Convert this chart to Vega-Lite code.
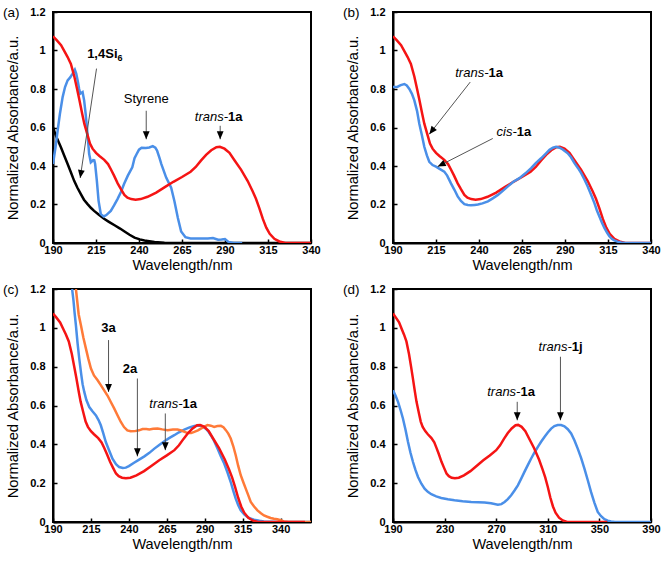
{
  "$schema": "https://vega.github.io/schema/vega-lite/v6.json",
  "padding": {"left": 2, "top": 4, "right": 0, "bottom": 3},
  "background": "white",
  "config": {
    "font": "Liberation Sans",
    "view": {"stroke": "black", "strokeWidth": 2},
    "axis": {"grid": false, "domainColor": "black", "domainWidth": 2, "tickColor": "black", "tickWidth": 1.5, "tickSize": -4, "labelFont": "Liberation Sans", "labelFontWeight": "bold", "labelFontSize": 11, "labelColor": "black", "labelFlush": false, "labelOverlap": false, "titleFont": "Liberation Sans", "titleFontWeight": "normal", "titleColor": "black"},
    "axisX": {"labelPadding": 5, "titleFontSize": 14.5, "titlePadding": 3},
    "axisY": {"labelPadding": 12, "titleFontSize": 14.7, "titlePadding": 9.5},
    "title": {"font": "Liberation Sans", "fontSize": 13.5, "fontWeight": "normal", "color": "black", "anchor": "start", "frame": "group", "baseline": "middle", "offset": 0, "dx": -50, "dy": 17},
    "text": {"font": "Liberation Sans", "fontSize": 13, "color": "black", "baseline": "middle"}
  },
  "datasets": {
    "spec": [
      {"panel":"all","series":"trans-1a","wl":190,"a":1.074},{"panel":"all","series":"trans-1a","wl":192,"a":1.055},{"panel":"all","series":"trans-1a","wl":194.7,"a":1.028},{"panel":"all","series":"trans-1a","wl":197,"a":0.99},{"panel":"all","series":"trans-1a","wl":198.5,"a":0.966},{"panel":"all","series":"trans-1a","wl":200.4,"a":0.93},{"panel":"all","series":"trans-1a","wl":202.4,"a":0.865},{"panel":"all","series":"trans-1a","wl":204,"a":0.8},{"panel":"all","series":"trans-1a","wl":205.3,"a":0.745},{"panel":"all","series":"trans-1a","wl":207,"a":0.67},{"panel":"all","series":"trans-1a","wl":208.2,"a":0.62},{"panel":"all","series":"trans-1a","wl":210.1,"a":0.56},{"panel":"all","series":"trans-1a","wl":211.5,"a":0.517},{"panel":"all","series":"trans-1a","wl":213,"a":0.49},{"panel":"all","series":"trans-1a","wl":215,"a":0.468},{"panel":"all","series":"trans-1a","wl":217,"a":0.452},{"panel":"all","series":"trans-1a","wl":219.8,"a":0.432},{"panel":"all","series":"trans-1a","wl":222,"a":0.41},{"panel":"all","series":"trans-1a","wl":223.7,"a":0.382},{"panel":"all","series":"trans-1a","wl":225.5,"a":0.35},{"panel":"all","series":"trans-1a","wl":227.6,"a":0.31},{"panel":"all","series":"trans-1a","wl":229.5,"a":0.28},{"panel":"all","series":"trans-1a","wl":231.5,"a":0.25},{"panel":"all","series":"trans-1a","wl":233.3,"a":0.236},{"panel":"all","series":"trans-1a","wl":235.5,"a":0.228},{"panel":"all","series":"trans-1a","wl":238,"a":0.225},{"panel":"all","series":"trans-1a","wl":241,"a":0.228},{"panel":"all","series":"trans-1a","wl":245,"a":0.24},{"panel":"all","series":"trans-1a","wl":250,"a":0.262},{"panel":"all","series":"trans-1a","wl":255,"a":0.29},{"panel":"all","series":"trans-1a","wl":260,"a":0.318},{"panel":"all","series":"trans-1a","wl":265,"a":0.343},{"panel":"all","series":"trans-1a","wl":270,"a":0.37},{"panel":"all","series":"trans-1a","wl":273,"a":0.395},{"panel":"all","series":"trans-1a","wl":276,"a":0.428},{"panel":"all","series":"trans-1a","wl":279,"a":0.458},{"panel":"all","series":"trans-1a","wl":282,"a":0.482},{"panel":"all","series":"trans-1a","wl":285,"a":0.498},{"panel":"all","series":"trans-1a","wl":287,"a":0.5},{"panel":"all","series":"trans-1a","wl":289.7,"a":0.49},{"panel":"all","series":"trans-1a","wl":292.6,"a":0.468},{"panel":"all","series":"trans-1a","wl":295.5,"a":0.43},{"panel":"all","series":"trans-1a","wl":299.4,"a":0.38},{"panel":"all","series":"trans-1a","wl":303.2,"a":0.322},{"panel":"all","series":"trans-1a","wl":306,"a":0.27},{"panel":"all","series":"trans-1a","wl":308,"a":0.23},{"panel":"all","series":"trans-1a","wl":310,"a":0.18},{"panel":"all","series":"trans-1a","wl":312,"a":0.125},{"panel":"all","series":"trans-1a","wl":314,"a":0.08},{"panel":"all","series":"trans-1a","wl":316,"a":0.048},{"panel":"all","series":"trans-1a","wl":318.7,"a":0.022},{"panel":"all","series":"trans-1a","wl":321.6,"a":0.008},{"panel":"all","series":"trans-1a","wl":325,"a":0},{"panel":"all","series":"trans-1a","wl":356,"a":0},

      {"panel":"a","series":"1,4Si6","wl":190,"a":0.6},{"panel":"a","series":"1,4Si6","wl":192,"a":0.55},{"panel":"a","series":"1,4Si6","wl":194.6,"a":0.497},{"panel":"a","series":"1,4Si6","wl":196.5,"a":0.455},{"panel":"a","series":"1,4Si6","wl":198.5,"a":0.41},{"panel":"a","series":"1,4Si6","wl":200.5,"a":0.365},{"panel":"a","series":"1,4Si6","wl":202.3,"a":0.323},{"panel":"a","series":"1,4Si6","wl":204.2,"a":0.287},{"panel":"a","series":"1,4Si6","wl":206.2,"a":0.254},{"panel":"a","series":"1,4Si6","wl":208,"a":0.225},{"panel":"a","series":"1,4Si6","wl":210.1,"a":0.202},{"panel":"a","series":"1,4Si6","wl":212,"a":0.183},{"panel":"a","series":"1,4Si6","wl":213.9,"a":0.167},{"panel":"a","series":"1,4Si6","wl":216.5,"a":0.148},{"panel":"a","series":"1,4Si6","wl":219.7,"a":0.126},{"panel":"a","series":"1,4Si6","wl":222.5,"a":0.11},{"panel":"a","series":"1,4Si6","wl":225.8,"a":0.092},{"panel":"a","series":"1,4Si6","wl":229,"a":0.075},{"panel":"a","series":"1,4Si6","wl":231.6,"a":0.06},{"panel":"a","series":"1,4Si6","wl":234.5,"a":0.043},{"panel":"a","series":"1,4Si6","wl":237.4,"a":0.028},{"panel":"a","series":"1,4Si6","wl":240.5,"a":0.019},{"panel":"a","series":"1,4Si6","wl":243.2,"a":0.013},{"panel":"a","series":"1,4Si6","wl":246,"a":0.009},{"panel":"a","series":"1,4Si6","wl":249,"a":0.005},{"panel":"a","series":"1,4Si6","wl":254.8,"a":0.001},{"panel":"a","series":"1,4Si6","wl":260,"a":0},{"panel":"a","series":"1,4Si6","wl":340,"a":0},

      {"panel":"a","series":"Styrene","wl":190,"a":0.41},{"panel":"a","series":"Styrene","wl":191.5,"a":0.5},{"panel":"a","series":"Styrene","wl":192.7,"a":0.584},{"panel":"a","series":"Styrene","wl":194,"a":0.67},{"panel":"a","series":"Styrene","wl":195.6,"a":0.758},{"panel":"a","series":"Styrene","wl":197,"a":0.81},{"panel":"a","series":"Styrene","wl":198.5,"a":0.845},{"panel":"a","series":"Styrene","wl":200,"a":0.86},{"panel":"a","series":"Styrene","wl":201.4,"a":0.88},{"panel":"a","series":"Styrene","wl":202.7,"a":0.9},{"panel":"a","series":"Styrene","wl":203.5,"a":0.88},{"panel":"a","series":"Styrene","wl":204.3,"a":0.845},{"panel":"a","series":"Styrene","wl":205.2,"a":0.8},{"panel":"a","series":"Styrene","wl":205.8,"a":0.776},{"panel":"a","series":"Styrene","wl":206.5,"a":0.78},{"panel":"a","series":"Styrene","wl":207.2,"a":0.784},{"panel":"a","series":"Styrene","wl":208.1,"a":0.741},{"panel":"a","series":"Styrene","wl":209,"a":0.67},{"panel":"a","series":"Styrene","wl":209.7,"a":0.602},{"panel":"a","series":"Styrene","wl":210.4,"a":0.53},{"panel":"a","series":"Styrene","wl":211,"a":0.463},{"panel":"a","series":"Styrene","wl":212,"a":0.419},{"panel":"a","series":"Styrene","wl":212.8,"a":0.425},{"panel":"a","series":"Styrene","wl":213.4,"a":0.431},{"panel":"a","series":"Styrene","wl":214,"a":0.43},{"panel":"a","series":"Styrene","wl":214.5,"a":0.41},{"panel":"a","series":"Styrene","wl":215.5,"a":0.323},{"panel":"a","series":"Styrene","wl":216.5,"a":0.219},{"panel":"a","series":"Styrene","wl":217.8,"a":0.15},{"panel":"a","series":"Styrene","wl":219.5,"a":0.138},{"panel":"a","series":"Styrene","wl":221,"a":0.145},{"panel":"a","series":"Styrene","wl":223.6,"a":0.167},{"panel":"a","series":"Styrene","wl":225.5,"a":0.195},{"panel":"a","series":"Styrene","wl":227.5,"a":0.228},{"panel":"a","series":"Styrene","wl":229.5,"a":0.265},{"panel":"a","series":"Styrene","wl":231.3,"a":0.306},{"panel":"a","series":"Styrene","wl":233.5,"a":0.35},{"panel":"a","series":"Styrene","wl":236.1,"a":0.393},{"panel":"a","series":"Styrene","wl":237.4,"a":0.44},{"panel":"a","series":"Styrene","wl":238.5,"a":0.46},{"panel":"a","series":"Styrene","wl":240,"a":0.485},{"panel":"a","series":"Styrene","wl":241.5,"a":0.495},{"panel":"a","series":"Styrene","wl":244,"a":0.494},{"panel":"a","series":"Styrene","wl":246,"a":0.496},{"panel":"a","series":"Styrene","wl":248,"a":0.503},{"panel":"a","series":"Styrene","wl":249.5,"a":0.495},{"panel":"a","series":"Styrene","wl":250.5,"a":0.48},{"panel":"a","series":"Styrene","wl":252,"a":0.44},{"panel":"a","series":"Styrene","wl":253,"a":0.41},{"panel":"a","series":"Styrene","wl":255.8,"a":0.34},{"panel":"a","series":"Styrene","wl":258.7,"a":0.287},{"panel":"a","series":"Styrene","wl":260.6,"a":0.217},{"panel":"a","series":"Styrene","wl":262.6,"a":0.13},{"panel":"a","series":"Styrene","wl":264.5,"a":0.06},{"panel":"a","series":"Styrene","wl":267,"a":0.03},{"panel":"a","series":"Styrene","wl":270,"a":0.024},{"panel":"a","series":"Styrene","wl":275,"a":0.023},{"panel":"a","series":"Styrene","wl":280,"a":0.024},{"panel":"a","series":"Styrene","wl":283,"a":0.026},{"panel":"a","series":"Styrene","wl":286,"a":0.017},{"panel":"a","series":"Styrene","wl":288,"a":0.018},{"panel":"a","series":"Styrene","wl":290,"a":0.021},{"panel":"a","series":"Styrene","wl":292,"a":0.006},{"panel":"a","series":"Styrene","wl":295,"a":0},{"panel":"a","series":"Styrene","wl":300,"a":0},

      {"panel":"b","series":"cis-1a","wl":190,"a":0.81},{"panel":"b","series":"cis-1a","wl":192.7,"a":0.812},{"panel":"b","series":"cis-1a","wl":194.5,"a":0.82},{"panel":"b","series":"cis-1a","wl":196.6,"a":0.826},{"panel":"b","series":"cis-1a","wl":198,"a":0.818},{"panel":"b","series":"cis-1a","wl":199.5,"a":0.8},{"panel":"b","series":"cis-1a","wl":201,"a":0.775},{"panel":"b","series":"cis-1a","wl":202.4,"a":0.741},{"panel":"b","series":"cis-1a","wl":204,"a":0.685},{"panel":"b","series":"cis-1a","wl":205.3,"a":0.62},{"panel":"b","series":"cis-1a","wl":206.8,"a":0.56},{"panel":"b","series":"cis-1a","wl":208.2,"a":0.5},{"panel":"b","series":"cis-1a","wl":209.7,"a":0.455},{"panel":"b","series":"cis-1a","wl":211.1,"a":0.422},{"panel":"b","series":"cis-1a","wl":213,"a":0.405},{"panel":"b","series":"cis-1a","wl":215,"a":0.397},{"panel":"b","series":"cis-1a","wl":217.1,"a":0.385},{"panel":"b","series":"cis-1a","wl":219.8,"a":0.371},{"panel":"b","series":"cis-1a","wl":221.5,"a":0.35},{"panel":"b","series":"cis-1a","wl":223.7,"a":0.31},{"panel":"b","series":"cis-1a","wl":225.8,"a":0.275},{"panel":"b","series":"cis-1a","wl":227.6,"a":0.242},{"panel":"b","series":"cis-1a","wl":229.5,"a":0.218},{"panel":"b","series":"cis-1a","wl":231.5,"a":0.202},{"panel":"b","series":"cis-1a","wl":233.5,"a":0.197},{"panel":"b","series":"cis-1a","wl":235.3,"a":0.196},{"panel":"b","series":"cis-1a","wl":237.5,"a":0.198},{"panel":"b","series":"cis-1a","wl":239.4,"a":0.2},{"panel":"b","series":"cis-1a","wl":242,"a":0.206},{"panel":"b","series":"cis-1a","wl":245.2,"a":0.216},{"panel":"b","series":"cis-1a","wl":248,"a":0.232},{"panel":"b","series":"cis-1a","wl":251,"a":0.25},{"panel":"b","series":"cis-1a","wl":254,"a":0.272},{"panel":"b","series":"cis-1a","wl":256.8,"a":0.294},{"panel":"b","series":"cis-1a","wl":260,"a":0.318},{"panel":"b","series":"cis-1a","wl":263.5,"a":0.337},{"panel":"b","series":"cis-1a","wl":267,"a":0.362},{"panel":"b","series":"cis-1a","wl":270.3,"a":0.389},{"panel":"b","series":"cis-1a","wl":273,"a":0.415},{"panel":"b","series":"cis-1a","wl":276.1,"a":0.44},{"panel":"b","series":"cis-1a","wl":279,"a":0.466},{"panel":"b","series":"cis-1a","wl":281,"a":0.484},{"panel":"b","series":"cis-1a","wl":283,"a":0.495},{"panel":"b","series":"cis-1a","wl":284.8,"a":0.5},{"panel":"b","series":"cis-1a","wl":286.8,"a":0.495},{"panel":"b","series":"cis-1a","wl":288.7,"a":0.486},{"panel":"b","series":"cis-1a","wl":291.6,"a":0.466},{"panel":"b","series":"cis-1a","wl":293.5,"a":0.445},{"panel":"b","series":"cis-1a","wl":295.5,"a":0.415},{"panel":"b","series":"cis-1a","wl":297.5,"a":0.39},{"panel":"b","series":"cis-1a","wl":299.4,"a":0.363},{"panel":"b","series":"cis-1a","wl":301.3,"a":0.33},{"panel":"b","series":"cis-1a","wl":303.2,"a":0.294},{"panel":"b","series":"cis-1a","wl":305,"a":0.255},{"panel":"b","series":"cis-1a","wl":307.1,"a":0.207},{"panel":"b","series":"cis-1a","wl":308.5,"a":0.17},{"panel":"b","series":"cis-1a","wl":310,"a":0.138},{"panel":"b","series":"cis-1a","wl":311.5,"a":0.105},{"panel":"b","series":"cis-1a","wl":312.9,"a":0.078},{"panel":"b","series":"cis-1a","wl":314.5,"a":0.053},{"panel":"b","series":"cis-1a","wl":315.8,"a":0.035},{"panel":"b","series":"cis-1a","wl":317.2,"a":0.022},{"panel":"b","series":"cis-1a","wl":318.7,"a":0.014},{"panel":"b","series":"cis-1a","wl":320.5,"a":0.007},{"panel":"b","series":"cis-1a","wl":322.6,"a":0.003},{"panel":"b","series":"cis-1a","wl":325,"a":0},{"panel":"b","series":"cis-1a","wl":340,"a":0},

      {"panel":"c","series":"2a","wl":202.6,"a":1.2},{"panel":"c","series":"2a","wl":203.5,"a":1.14},{"panel":"c","series":"2a","wl":204.2,"a":1.08},{"panel":"c","series":"2a","wl":205.1,"a":1.013},{"panel":"c","series":"2a","wl":206.2,"a":0.92},{"panel":"c","series":"2a","wl":207.3,"a":0.841},{"panel":"c","series":"2a","wl":208.6,"a":0.76},{"panel":"c","series":"2a","wl":209.5,"a":0.71},{"panel":"c","series":"2a","wl":210.6,"a":0.67},{"panel":"c","series":"2a","wl":212,"a":0.628},{"panel":"c","series":"2a","wl":213.9,"a":0.592},{"panel":"c","series":"2a","wl":216,"a":0.57},{"panel":"c","series":"2a","wl":218.3,"a":0.549},{"panel":"c","series":"2a","wl":220,"a":0.525},{"panel":"c","series":"2a","wl":221.5,"a":0.498},{"panel":"c","series":"2a","wl":223,"a":0.46},{"panel":"c","series":"2a","wl":224.8,"a":0.412},{"panel":"c","series":"2a","wl":227,"a":0.368},{"panel":"c","series":"2a","wl":229.2,"a":0.326},{"panel":"c","series":"2a","wl":231.5,"a":0.298},{"panel":"c","series":"2a","wl":233.6,"a":0.283},{"panel":"c","series":"2a","wl":236,"a":0.278},{"panel":"c","series":"2a","wl":238,"a":0.28},{"panel":"c","series":"2a","wl":240,"a":0.288},{"panel":"c","series":"2a","wl":243.4,"a":0.305},{"panel":"c","series":"2a","wl":246.5,"a":0.32},{"panel":"c","series":"2a","wl":250.2,"a":0.338},{"panel":"c","series":"2a","wl":253.5,"a":0.356},{"panel":"c","series":"2a","wl":256.8,"a":0.378},{"panel":"c","series":"2a","wl":260,"a":0.397},{"panel":"c","series":"2a","wl":263.4,"a":0.416},{"panel":"c","series":"2a","wl":266.5,"a":0.432},{"panel":"c","series":"2a","wl":269.9,"a":0.447},{"panel":"c","series":"2a","wl":273,"a":0.462},{"panel":"c","series":"2a","wl":276.5,"a":0.476},{"panel":"c","series":"2a","wl":280,"a":0.487},{"panel":"c","series":"2a","wl":283.1,"a":0.495},{"panel":"c","series":"2a","wl":285.5,"a":0.497},{"panel":"c","series":"2a","wl":287.4,"a":0.496},{"panel":"c","series":"2a","wl":289,"a":0.49},{"panel":"c","series":"2a","wl":290.7,"a":0.481},{"panel":"c","series":"2a","wl":292.5,"a":0.465},{"panel":"c","series":"2a","wl":294,"a":0.447},{"panel":"c","series":"2a","wl":296,"a":0.42},{"panel":"c","series":"2a","wl":298.4,"a":0.378},{"panel":"c","series":"2a","wl":300.5,"a":0.34},{"panel":"c","series":"2a","wl":302.8,"a":0.301},{"panel":"c","series":"2a","wl":305,"a":0.255},{"panel":"c","series":"2a","wl":307.1,"a":0.206},{"panel":"c","series":"2a","wl":308.8,"a":0.16},{"panel":"c","series":"2a","wl":310.4,"a":0.12},{"panel":"c","series":"2a","wl":312,"a":0.088},{"panel":"c","series":"2a","wl":313.7,"a":0.06},{"panel":"c","series":"2a","wl":316,"a":0.04},{"panel":"c","series":"2a","wl":318.1,"a":0.026},{"panel":"c","series":"2a","wl":320,"a":0.018},{"panel":"c","series":"2a","wl":322.5,"a":0.012},{"panel":"c","series":"2a","wl":326,"a":0.006},{"panel":"c","series":"2a","wl":329,"a":0.003},{"panel":"c","series":"2a","wl":334,"a":0.001},{"panel":"c","series":"2a","wl":338,"a":0},{"panel":"c","series":"2a","wl":360,"a":0},

      {"panel":"c","series":"3a","wl":205.1,"a":1.2},{"panel":"c","series":"3a","wl":206.9,"a":1.07},{"panel":"c","series":"3a","wl":208.4,"a":1.013},{"panel":"c","series":"3a","wl":210,"a":0.95},{"panel":"c","series":"3a","wl":211.7,"a":0.893},{"panel":"c","series":"3a","wl":213.3,"a":0.84},{"panel":"c","series":"3a","wl":215,"a":0.79},{"panel":"c","series":"3a","wl":217,"a":0.755},{"panel":"c","series":"3a","wl":219.4,"a":0.73},{"panel":"c","series":"3a","wl":221.5,"a":0.705},{"panel":"c","series":"3a","wl":223.7,"a":0.678},{"panel":"c","series":"3a","wl":226,"a":0.65},{"panel":"c","series":"3a","wl":228.1,"a":0.618},{"panel":"c","series":"3a","wl":230.3,"a":0.585},{"panel":"c","series":"3a","wl":232.5,"a":0.55},{"panel":"c","series":"3a","wl":234.7,"a":0.515},{"panel":"c","series":"3a","wl":236.8,"a":0.489},{"panel":"c","series":"3a","wl":239,"a":0.472},{"panel":"c","series":"3a","wl":241.2,"a":0.467},{"panel":"c","series":"3a","wl":244,"a":0.468},{"panel":"c","series":"3a","wl":246.7,"a":0.472},{"panel":"c","series":"3a","wl":249,"a":0.479},{"panel":"c","series":"3a","wl":251.5,"a":0.479},{"panel":"c","series":"3a","wl":253.5,"a":0.477},{"panel":"c","series":"3a","wl":256,"a":0.48},{"panel":"c","series":"3a","wl":259,"a":0.481},{"panel":"c","series":"3a","wl":262,"a":0.477},{"panel":"c","series":"3a","wl":265.5,"a":0.473},{"panel":"c","series":"3a","wl":269,"a":0.476},{"panel":"c","series":"3a","wl":272.1,"a":0.476},{"panel":"c","series":"3a","wl":275,"a":0.47},{"panel":"c","series":"3a","wl":278.7,"a":0.458},{"panel":"c","series":"3a","wl":281,"a":0.458},{"panel":"c","series":"3a","wl":283.1,"a":0.464},{"panel":"c","series":"3a","wl":285.5,"a":0.472},{"panel":"c","series":"3a","wl":287.4,"a":0.481},{"panel":"c","series":"3a","wl":289.5,"a":0.49},{"panel":"c","series":"3a","wl":291.8,"a":0.499},{"panel":"c","series":"3a","wl":294,"a":0.496},{"panel":"c","series":"3a","wl":296.2,"a":0.49},{"panel":"c","series":"3a","wl":298.4,"a":0.494},{"panel":"c","series":"3a","wl":300.6,"a":0.495},{"panel":"c","series":"3a","wl":302.3,"a":0.488},{"panel":"c","series":"3a","wl":303.9,"a":0.473},{"panel":"c","series":"3a","wl":305.5,"a":0.455},{"panel":"c","series":"3a","wl":307.1,"a":0.43},{"panel":"c","series":"3a","wl":308.8,"a":0.39},{"panel":"c","series":"3a","wl":310.4,"a":0.344},{"panel":"c","series":"3a","wl":312,"a":0.29},{"panel":"c","series":"3a","wl":313.7,"a":0.241},{"panel":"c","series":"3a","wl":315.4,"a":0.205},{"panel":"c","series":"3a","wl":317,"a":0.172},{"panel":"c","series":"3a","wl":318.7,"a":0.137},{"panel":"c","series":"3a","wl":320.3,"a":0.103},{"panel":"c","series":"3a","wl":322.5,"a":0.08},{"panel":"c","series":"3a","wl":324.7,"a":0.06},{"panel":"c","series":"3a","wl":327,"a":0.045},{"panel":"c","series":"3a","wl":329,"a":0.034},{"panel":"c","series":"3a","wl":331.2,"a":0.027},{"panel":"c","series":"3a","wl":333.4,"a":0.021},{"panel":"c","series":"3a","wl":335.6,"a":0.017},{"panel":"c","series":"3a","wl":337.8,"a":0.014},{"panel":"c","series":"3a","wl":340,"a":0.009},{"panel":"c","series":"3a","wl":342.2,"a":0.003},{"panel":"c","series":"3a","wl":344.5,"a":0.001},{"panel":"c","series":"3a","wl":346.6,"a":0},{"panel":"c","series":"3a","wl":360,"a":0},

      {"panel":"d","series":"trans-1j","wl":190,"a":0.679},{"panel":"d","series":"trans-1j","wl":192,"a":0.65},{"panel":"d","series":"trans-1j","wl":193.9,"a":0.619},{"panel":"d","series":"trans-1j","wl":195.8,"a":0.578},{"panel":"d","series":"trans-1j","wl":197.7,"a":0.533},{"panel":"d","series":"trans-1j","wl":199.7,"a":0.475},{"panel":"d","series":"trans-1j","wl":201.6,"a":0.413},{"panel":"d","series":"trans-1j","wl":203.5,"a":0.358},{"panel":"d","series":"trans-1j","wl":205.5,"a":0.309},{"panel":"d","series":"trans-1j","wl":207.4,"a":0.268},{"panel":"d","series":"trans-1j","wl":209.4,"a":0.232},{"panel":"d","series":"trans-1j","wl":212,"a":0.197},{"panel":"d","series":"trans-1j","wl":214.5,"a":0.172},{"panel":"d","series":"trans-1j","wl":217,"a":0.155},{"panel":"d","series":"trans-1j","wl":219.7,"a":0.143},{"panel":"d","series":"trans-1j","wl":223.5,"a":0.132},{"panel":"d","series":"trans-1j","wl":227.4,"a":0.124},{"panel":"d","series":"trans-1j","wl":232.5,"a":0.117},{"panel":"d","series":"trans-1j","wl":237.7,"a":0.112},{"panel":"d","series":"trans-1j","wl":244,"a":0.107},{"panel":"d","series":"trans-1j","wl":250.6,"a":0.103},{"panel":"d","series":"trans-1j","wl":256,"a":0.102},{"panel":"d","series":"trans-1j","wl":261,"a":0.1},{"panel":"d","series":"trans-1j","wl":266,"a":0.096},{"panel":"d","series":"trans-1j","wl":271.3,"a":0.089},{"panel":"d","series":"trans-1j","wl":274,"a":0.092},{"panel":"d","series":"trans-1j","wl":276.5,"a":0.103},{"panel":"d","series":"trans-1j","wl":279,"a":0.118},{"panel":"d","series":"trans-1j","wl":281.6,"a":0.138},{"panel":"d","series":"trans-1j","wl":284.2,"a":0.162},{"panel":"d","series":"trans-1j","wl":286.8,"a":0.189},{"panel":"d","series":"trans-1j","wl":289.3,"a":0.222},{"panel":"d","series":"trans-1j","wl":291.9,"a":0.258},{"panel":"d","series":"trans-1j","wl":294.5,"a":0.293},{"panel":"d","series":"trans-1j","wl":297.1,"a":0.327},{"panel":"d","series":"trans-1j","wl":299.7,"a":0.358},{"panel":"d","series":"trans-1j","wl":302.3,"a":0.387},{"panel":"d","series":"trans-1j","wl":304.8,"a":0.413},{"panel":"d","series":"trans-1j","wl":307.4,"a":0.438},{"panel":"d","series":"trans-1j","wl":310,"a":0.461},{"panel":"d","series":"trans-1j","wl":312.6,"a":0.481},{"panel":"d","series":"trans-1j","wl":315.1,"a":0.494},{"panel":"d","series":"trans-1j","wl":317.7,"a":0.499},{"panel":"d","series":"trans-1j","wl":320.3,"a":0.499},{"panel":"d","series":"trans-1j","wl":322.9,"a":0.493},{"panel":"d","series":"trans-1j","wl":325.5,"a":0.478},{"panel":"d","series":"trans-1j","wl":328.1,"a":0.456},{"panel":"d","series":"trans-1j","wl":330.7,"a":0.42},{"panel":"d","series":"trans-1j","wl":333.2,"a":0.378},{"panel":"d","series":"trans-1j","wl":335.8,"a":0.33},{"panel":"d","series":"trans-1j","wl":338.4,"a":0.275},{"panel":"d","series":"trans-1j","wl":341,"a":0.215},{"panel":"d","series":"trans-1j","wl":343.5,"a":0.155},{"panel":"d","series":"trans-1j","wl":346.1,"a":0.1},{"panel":"d","series":"trans-1j","wl":348.7,"a":0.052},{"panel":"d","series":"trans-1j","wl":351.3,"a":0.03},{"panel":"d","series":"trans-1j","wl":353.9,"a":0.014},{"panel":"d","series":"trans-1j","wl":356.5,"a":0.007},{"panel":"d","series":"trans-1j","wl":359,"a":0.003},{"panel":"d","series":"trans-1j","wl":362,"a":0},{"panel":"d","series":"trans-1j","wl":390,"a":0}
    ],
    "arrows": [
      {"panel":"a","wl":205.8,"a":0.3375,"wl2":215.3,"a2":0.906,"ang":188.6},
      {"panel":"a","wl":244.2,"a":0.539,"wl2":244.2,"a2":0.687,"ang":180},
      {"panel":"a","wl":287.2,"a":0.539,"wl2":287.2,"a2":0.609,"ang":180},
      {"panel":"b","wl":211.1,"a":0.565,"wl2":234.9,"a2":0.836,"ang":218},
      {"panel":"b","wl":216.0,"a":0.397,"wl2":248.0,"a2":0.543,"ang":242.8},
      {"panel":"c","wl":226.6,"a":0.67,"wl2":226.6,"a2":0.937,"ang":180},
      {"panel":"c","wl":245.6,"a":0.338,"wl2":245.6,"a2":0.739,"ang":180},
      {"panel":"c","wl":264,"a":0.37,"wl2":264,"a2":0.559,"ang":180},
      {"panel":"d","wl":286.3,"a":0.524,"wl2":286.3,"a2":0.619,"ang":180},
      {"panel":"d","wl":319.8,"a":0.524,"wl2":319.8,"a2":0.851,"ang":180}
    ],
    "labels": [
      {"panel":"a","k":"br","t":"1,4Si","wl":227.5,"a":0.983},
      {"panel":"a","k":"sub","t":"6","wl":227.5,"a":0.983},
      {"panel":"a","k":"nc","t":"Styrene","wl":244.2,"a":0.75},
      {"panel":"a","k":"ir","t":"trans-","wl":291.8,"a":0.652},
      {"panel":"a","k":"bl","t":"1a","wl":291.8,"a":0.652},
      {"panel":"b","k":"ir","t":"trans-","wl":245.5,"a":0.881},
      {"panel":"b","k":"bl","t":"1a","wl":245.5,"a":0.881},
      {"panel":"b","k":"ir","t":"cis-","wl":262,"a":0.579},
      {"panel":"b","k":"bl","t":"1a","wl":262,"a":0.579},
      {"panel":"c","k":"bc","t":"3a","wl":226.6,"a":0.997},
      {"panel":"c","k":"bc","t":"2a","wl":240.8,"a":0.787},
      {"panel":"c","k":"ir","t":"trans-","wl":275.4,"a":0.61},
      {"panel":"c","k":"bl","t":"1a","wl":275.4,"a":0.61},
      {"panel":"d","k":"ir","t":"trans-","wl":288.8,"a":0.67},
      {"panel":"d","k":"bl","t":"1a","wl":288.8,"a":0.67},
      {"panel":"d","k":"ir","t":"trans-","wl":328.6,"a":0.9},
      {"panel":"d","k":"bl","t":"1j","wl":328.6,"a":0.9}
    ]
  },
  "columns": 2,
  "bounds": "flush",
  "spacing": {"row": 46, "column": 82},
  "concat": [
    {
      "width": 258, "height": 231,
      "title": {"text": "(a)"},
      "encoding": {
        "x": {"field": "wl", "type": "quantitative", "scale": {"domain": [190, 340], "nice": false, "zero": false}, "axis": {"title": "Wavelength/nm", "values": [190, 215, 240, 265, 290, 315, 340]}},
        "y": {"field": "a", "type": "quantitative", "scale": {"domain": [0, 1.2], "nice": false, "zero": false}, "axis": {"title": "Normalized Absorbance/a.u.", "values": [0, 0.2, 0.4, 0.6, 0.8, 1, 1.2], "format": "~g"}}
      },
      "layer": [
        {"data": {"name": "spec"}, "transform": [{"filter": "datum.panel == 'a'"}], "mark": {"type": "line", "strokeWidth": 2.5, "clip": true}, "encoding": {"color": {"field": "series", "type": "nominal", "scale": {"domain": ["trans-1a", "Styrene", "1,4Si6", "cis-1a", "2a", "3a", "trans-1j"], "range": ["#f51414", "#4a8fe8", "#000000", "#4a8fe8", "#4a8fe8", "#ff7a38", "#4a8fe8"]}, "legend": null}}},
        {"data": {"name": "spec"}, "transform": [{"filter": "datum.panel == 'all'"}], "mark": {"type": "line", "strokeWidth": 2.5, "clip": true}, "encoding": {"color": {"field": "series", "type": "nominal", "legend": null}}},
        {"data": {"name": "arrows"}, "transform": [{"filter": "datum.panel == 'a'"}], "mark": {"type": "rule", "color": "#555555", "strokeWidth": 1}, "encoding": {"x2": {"field": "wl2"}, "y2": {"field": "a2"}}},
        {"data": {"name": "arrows"}, "transform": [{"filter": "datum.panel == 'a'"}], "mark": {"type": "point", "shape": "M0,0L0.85,2L-0.85,2Z", "filled": true, "color": "black", "opacity": 1, "size": 64, "strokeWidth": 0}, "encoding": {"angle": {"field": "ang", "type": "quantitative", "scale": null}}},
        {"data": {"name": "labels"}, "transform": [{"filter": "datum.panel == 'a' && datum.k == 'br'"}], "mark": {"type": "text", "align": "right", "fontWeight": "bold"}, "encoding": {"text": {"field": "t"}}},
        {"data": {"name": "labels"}, "transform": [{"filter": "datum.panel == 'a' && datum.k == 'sub'"}], "mark": {"type": "text", "align": "left", "fontWeight": "bold", "fontSize": 9, "dy": 4}, "encoding": {"text": {"field": "t"}}},
        {"data": {"name": "labels"}, "transform": [{"filter": "datum.panel == 'a' && datum.k == 'nc'"}], "mark": {"type": "text", "align": "center"}, "encoding": {"text": {"field": "t"}}},
        {"data": {"name": "labels"}, "transform": [{"filter": "datum.panel == 'a' && datum.k == 'ir'"}], "mark": {"type": "text", "align": "right", "fontStyle": "italic"}, "encoding": {"text": {"field": "t"}}},
        {"data": {"name": "labels"}, "transform": [{"filter": "datum.panel == 'a' && datum.k == 'bl'"}], "mark": {"type": "text", "align": "left", "fontWeight": "bold"}, "encoding": {"text": {"field": "t"}}}
      ]
    },
    {
      "width": 258, "height": 231,
      "title": {"text": "(b)"},
      "encoding": {
        "x": {"field": "wl", "type": "quantitative", "scale": {"domain": [190, 340], "nice": false, "zero": false}, "axis": {"title": "Wavelength/nm", "values": [190, 215, 240, 265, 290, 315, 340]}},
        "y": {"field": "a", "type": "quantitative", "scale": {"domain": [0, 1.2], "nice": false, "zero": false}, "axis": {"title": "Normalized Absorbance/a.u.", "values": [0, 0.2, 0.4, 0.6, 0.8, 1, 1.2], "format": "~g"}}
      },
      "layer": [
        {"data": {"name": "spec"}, "transform": [{"filter": "datum.panel == 'all'"}], "mark": {"type": "line", "strokeWidth": 2.5, "clip": true}, "encoding": {"color": {"field": "series", "type": "nominal", "legend": null}}},
        {"data": {"name": "spec"}, "transform": [{"filter": "datum.panel == 'b'"}], "mark": {"type": "line", "strokeWidth": 2.5, "clip": true}, "encoding": {"color": {"field": "series", "type": "nominal", "legend": null}}},
        {"data": {"name": "arrows"}, "transform": [{"filter": "datum.panel == 'b'"}], "mark": {"type": "rule", "color": "#555555", "strokeWidth": 1}, "encoding": {"x2": {"field": "wl2"}, "y2": {"field": "a2"}}},
        {"data": {"name": "arrows"}, "transform": [{"filter": "datum.panel == 'b'"}], "mark": {"type": "point", "shape": "M0,0L0.85,2L-0.85,2Z", "filled": true, "color": "black", "opacity": 1, "size": 64, "strokeWidth": 0}, "encoding": {"angle": {"field": "ang", "type": "quantitative", "scale": null}}},
        {"data": {"name": "labels"}, "transform": [{"filter": "datum.panel == 'b' && datum.k == 'ir'"}], "mark": {"type": "text", "align": "right", "fontStyle": "italic"}, "encoding": {"text": {"field": "t"}}},
        {"data": {"name": "labels"}, "transform": [{"filter": "datum.panel == 'b' && datum.k == 'bl'"}], "mark": {"type": "text", "align": "left", "fontWeight": "bold"}, "encoding": {"text": {"field": "t"}}}
      ]
    },
    {
      "width": 258, "height": 233,
      "title": {"text": "(c)"},
      "encoding": {
        "x": {"field": "wl", "type": "quantitative", "scale": {"domain": [190, 360], "nice": false, "zero": false}, "axis": {"title": "Wavelength/nm", "values": [190, 215, 240, 265, 290, 315, 340]}},
        "y": {"field": "a", "type": "quantitative", "scale": {"domain": [0, 1.2], "nice": false, "zero": false}, "axis": {"title": "Normalized Absorbance/a.u.", "values": [0, 0.2, 0.4, 0.6, 0.8, 1, 1.2], "format": "~g"}}
      },
      "layer": [
        {"data": {"name": "spec"}, "transform": [{"filter": "datum.panel == 'c'"}], "mark": {"type": "line", "strokeWidth": 2.5, "clip": true}, "encoding": {"color": {"field": "series", "type": "nominal", "legend": null}}},
        {"data": {"name": "spec"}, "transform": [{"filter": "datum.panel == 'all'"}], "mark": {"type": "line", "strokeWidth": 2.5, "clip": true}, "encoding": {"color": {"field": "series", "type": "nominal", "legend": null}}},
        {"data": {"name": "arrows"}, "transform": [{"filter": "datum.panel == 'c'"}], "mark": {"type": "rule", "color": "#555555", "strokeWidth": 1}, "encoding": {"x2": {"field": "wl2"}, "y2": {"field": "a2"}}},
        {"data": {"name": "arrows"}, "transform": [{"filter": "datum.panel == 'c'"}], "mark": {"type": "point", "shape": "M0,0L0.85,2L-0.85,2Z", "filled": true, "color": "black", "opacity": 1, "size": 64, "strokeWidth": 0}, "encoding": {"angle": {"field": "ang", "type": "quantitative", "scale": null}}},
        {"data": {"name": "labels"}, "transform": [{"filter": "datum.panel == 'c' && datum.k == 'bc'"}], "mark": {"type": "text", "align": "center", "fontWeight": "bold"}, "encoding": {"text": {"field": "t"}}},
        {"data": {"name": "labels"}, "transform": [{"filter": "datum.panel == 'c' && datum.k == 'ir'"}], "mark": {"type": "text", "align": "right", "fontStyle": "italic"}, "encoding": {"text": {"field": "t"}}},
        {"data": {"name": "labels"}, "transform": [{"filter": "datum.panel == 'c' && datum.k == 'bl'"}], "mark": {"type": "text", "align": "left", "fontWeight": "bold"}, "encoding": {"text": {"field": "t"}}}
      ]
    },
    {
      "width": 258, "height": 233,
      "title": {"text": "(d)"},
      "encoding": {
        "x": {"field": "wl", "type": "quantitative", "scale": {"domain": [190, 390], "nice": false, "zero": false}, "axis": {"title": "Wavelength/nm", "values": [190, 230, 270, 310, 350, 390]}},
        "y": {"field": "a", "type": "quantitative", "scale": {"domain": [0, 1.2], "nice": false, "zero": false}, "axis": {"title": "Normalized Absorbance/a.u.", "values": [0, 0.2, 0.4, 0.6, 0.8, 1, 1.2], "format": "~g"}}
      },
      "layer": [
        {"data": {"name": "spec"}, "transform": [{"filter": "datum.panel == 'd'"}], "mark": {"type": "line", "strokeWidth": 2.5, "clip": true}, "encoding": {"color": {"field": "series", "type": "nominal", "legend": null}}},
        {"data": {"name": "spec"}, "transform": [{"filter": "datum.panel == 'all'"}], "mark": {"type": "line", "strokeWidth": 2.5, "clip": true}, "encoding": {"color": {"field": "series", "type": "nominal", "legend": null}}},
        {"data": {"name": "arrows"}, "transform": [{"filter": "datum.panel == 'd'"}], "mark": {"type": "rule", "color": "#555555", "strokeWidth": 1}, "encoding": {"x2": {"field": "wl2"}, "y2": {"field": "a2"}}},
        {"data": {"name": "arrows"}, "transform": [{"filter": "datum.panel == 'd'"}], "mark": {"type": "point", "shape": "M0,0L0.85,2L-0.85,2Z", "filled": true, "color": "black", "opacity": 1, "size": 64, "strokeWidth": 0}, "encoding": {"angle": {"field": "ang", "type": "quantitative", "scale": null}}},
        {"data": {"name": "labels"}, "transform": [{"filter": "datum.panel == 'd' && datum.k == 'ir'"}], "mark": {"type": "text", "align": "right", "fontStyle": "italic"}, "encoding": {"text": {"field": "t"}}},
        {"data": {"name": "labels"}, "transform": [{"filter": "datum.panel == 'd' && datum.k == 'bl'"}], "mark": {"type": "text", "align": "left", "fontWeight": "bold"}, "encoding": {"text": {"field": "t"}}}
      ]
    }
  ]
}
